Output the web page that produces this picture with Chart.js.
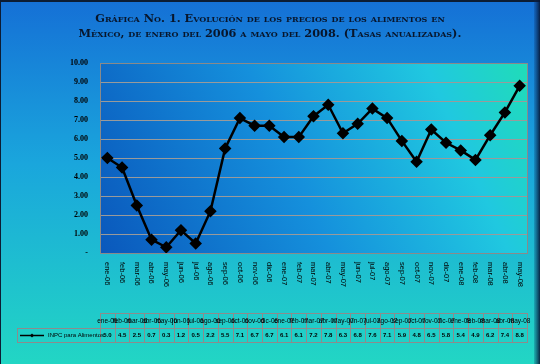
<!DOCTYPE html>
<html>
<head>
<meta charset="utf-8">
<style>
  html, body { margin: 0; padding: 0; background: #1a7ad8; }
  #wrap { width: 540px; height: 364px; }
</style>
<script src="https://cdn.jsdelivr.net/npm/chart.js@4"></script>
</head>
<body>
<div id="wrap"><canvas id="chart" width="540" height="364"></canvas></div>
<script>
// Data
var months = ['ene-06', 'feb-06', 'mar-06', 'abr-06', 'may-06', 'jun-06', 'jul-06', 'ago-06', 'sep-06', 'oct-06',
  'nov-06', 'dic-06', 'ene-07', 'feb-07', 'mar-07', 'abr-07', 'may-07', 'jun-07', 'jul-07', 'ago-07',
  'sep-07', 'oct-07', 'nov-07', 'dic-07', 'ene-08', 'feb-08', 'mar-08', 'abr-08', 'may-08'];
var inpcAlimentos = [5.0, 4.5, 2.5, 0.7, 0.3, 1.2, 0.5, 2.2, 5.5, 7.1,
  6.7, 6.7, 6.1, 6.1, 7.2, 7.8, 6.3, 6.8, 7.6, 7.1,
  5.9, 4.8, 6.5, 5.8, 5.4, 4.9, 6.2, 7.4, 8.8];
var seriesLabel = 'INPC para Alimentos';
var yMin = 0, yMax = 10, yStep = 1;
var titleLines = [
  'Gráfica No. 1. Evolución de los precios de los alimentos en',
  'México, de enero del 2006 a mayo del 2008. (Tasas anualizadas).'
];

(function () {
  'use strict';

  // backgrounds: page gradient and plot-area gradient
  var backdrop = {
    id: 'backdrop',
    beforeDraw: function (chart) {
      var ctx = chart.ctx, a = chart.chartArea;
      var g = ctx.createLinearGradient(0, 0, 0, chart.height);
      g.addColorStop(0, '#1570d6');
      g.addColorStop(0.45, '#1aa6dc');
      g.addColorStop(1, '#22d6c4');
      ctx.save();
      ctx.fillStyle = g;
      ctx.fillRect(0, 0, chart.width, chart.height);

      var pg = ctx.createLinearGradient(a.left, a.bottom, a.right, a.top);
      pg.addColorStop(0, '#0a58bc');
      pg.addColorStop(0.45, '#1590dc');
      pg.addColorStop(0.8, '#20c8e0');
      pg.addColorStop(1, '#20dcb8');
      ctx.fillStyle = pg;
      ctx.fillRect(a.left, a.top, a.right - a.left, a.bottom - a.top);
      ctx.restore();
    },
    beforeDatasetsDraw: function (chart) {
      var ctx = chart.ctx, a = chart.chartArea;
      ctx.save();
      ctx.strokeStyle = '#8a8a8a';
      ctx.lineWidth = 1;
      ctx.strokeRect(Math.round(a.left) + 0.5, Math.round(a.top) + 0.5,
        Math.round(a.right - a.left), Math.round(a.bottom - a.top));
      ctx.restore();
    }
  };

  // title, rotated month labels, data table and frame
  var extras = {
    id: 'extras',
    afterDraw: function (chart) {
      var ctx = chart.ctx, a = chart.chartArea;
      var xs = chart.scales.x;
      ctx.save();

      // title in bold small caps
      ctx.fillStyle = '#08162c';
      ctx.textAlign = 'center';
      ctx.textBaseline = 'middle';
      ctx.font = 'normal small-caps bold 11px "DejaVu Serif"';
      var w0 = ctx.measureText(titleLines[0]).width;
      var size = 11 * 357 / w0;
      ctx.font = 'normal small-caps bold ' + size.toFixed(2) + 'px "DejaVu Serif"';
      ctx.fillText(titleLines[0], 270, 19);
      ctx.fillText(titleLines[1], 270, 34);

      // month labels, reading top to bottom
      ctx.fillStyle = '#000';
      ctx.font = '7.5px "Liberation Sans"';
      ctx.textAlign = 'left';
      ctx.textBaseline = 'middle';
      months.forEach(function (m, i) {
        var x = xs.getPixelForValue(i);
        ctx.save();
        ctx.translate(x, a.bottom + 9);
        ctx.rotate(Math.PI / 2);
        ctx.fillText(m, 0, 0);
        ctx.restore();
      });

      // data table
      var colW = (xs.right - xs.left) / months.length;
      var top = 313, rowH = 15;
      ctx.strokeStyle = '#8c8c8c';
      ctx.lineWidth = 1;
      ctx.strokeRect(17.5, top + rowH + 0.5, Math.round(xs.left) - 17, rowH - 1);
      months.forEach(function (m, i) {
        var cx = xs.getPixelForValue(i);
        var l = Math.round(cx - colW / 2) + 0.5;
        var r = Math.round(cx + colW / 2) + 0.5;
        ctx.strokeRect(l, top + 0.5, r - l, rowH);
        ctx.strokeRect(l, top + rowH + 0.5, r - l, rowH - 1);
      });
      ctx.fillStyle = '#000';
      ctx.textAlign = 'center';
      ctx.textBaseline = 'middle';
      ctx.font = '6.5px "Liberation Sans"';
      months.forEach(function (m, i) {
        ctx.fillText(m, xs.getPixelForValue(i), top + rowH / 2 + 1);
      });
      ctx.font = 'bold 6px "Liberation Sans"';
      inpcAlimentos.forEach(function (v, i) {
        ctx.fillText(v.toFixed(1), xs.getPixelForValue(i), top + rowH * 1.5);
      });

      // legend key in the table
      var ly = top + rowH * 1.5;
      ctx.strokeStyle = '#000';
      ctx.lineWidth = 1.5;
      ctx.beginPath();
      ctx.moveTo(20, ly);
      ctx.lineTo(44, ly);
      ctx.stroke();
      ctx.beginPath();
      ctx.moveTo(32, ly - 2);
      ctx.lineTo(34, ly);
      ctx.lineTo(32, ly + 2);
      ctx.lineTo(30, ly);
      ctx.closePath();
      ctx.fill();
      ctx.textAlign = 'left';
      ctx.font = '6px "Liberation Sans"';
      ctx.fillText(seriesLabel, 48, ly);

      // frame
      ctx.fillStyle = '#0c1c34';
      ctx.fillRect(0, 0, chart.width, 2);
      ctx.fillRect(0, 0, 1, chart.height);
      var rg = ctx.createLinearGradient(chart.width - 6, 0, chart.width, 0);
      rg.addColorStop(0, 'rgba(10,40,90,0.2)');
      rg.addColorStop(1, 'rgba(5,20,50,0.9)');
      ctx.fillStyle = rg;
      ctx.fillRect(chart.width - 6, 0, 6, chart.height);
      ctx.restore();
    }
  };

  var canvas = document.getElementById('chart');
  new Chart(canvas, {
    type: 'line',
    data: {
      labels: months,
      datasets: [{
        label: seriesLabel,
        data: inpcAlimentos,
        borderColor: '#000',
        backgroundColor: '#000',
        borderWidth: 2.5,
        pointStyle: 'rectRot',
        pointRadius: 4.5,
        pointBackgroundColor: '#000',
        pointBorderColor: '#000',
        tension: 0
      }]
    },
    options: {
      responsive: false,
      animation: false,
      layout: { padding: { top: 63, right: 13, bottom: 67, left: 0 } },
      plugins: {
        legend: { display: false },
        title: { display: false },
        tooltip: { enabled: false }
      },
      scales: {
        x: {
          type: 'category',
          offset: true,
          grid: { display: false },
          border: { display: false },
          ticks: { display: false },
          afterFit: function (scale) { scale.height = 44; }
        },
        y: {
          min: yMin,
          max: yMax,
          grid: { color: '#9a9a9a', drawTicks: false },
          border: { display: false },
          ticks: {
            stepSize: yStep,
            padding: 12,
            color: '#000',
            font: { family: '"Liberation Serif"', weight: 'bold', size: 8 },
            callback: function (v) { return v === 0 ? '-' : v.toFixed(2); }
          },
          afterFit: function (scale) { scale.width = 100; }
        }
      }
    },
    plugins: [backdrop, extras]
  });
}());
</script>
</body>
</html>
